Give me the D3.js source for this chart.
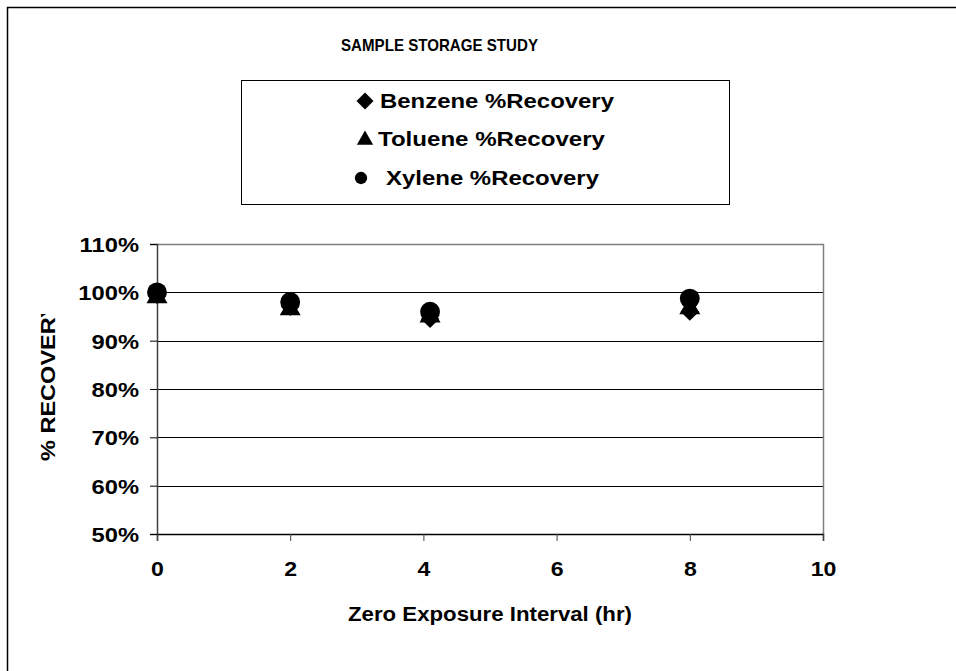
<!DOCTYPE html>
<html><head><meta charset="utf-8">
<script src="https://cdn.jsdelivr.net/npm/d3@7"></script>
<style>body{margin:0;background:#fff}svg{display:block}text{font-family:"Liberation Sans",Arial,sans-serif;font-weight:bold;fill:#000}</style>
</head><body>
<script>
const hours = [0, 2, 4.1, 8];
const benzene = [0.995, 0.97, 0.945, 0.96];
const toluene = [0.99, 0.965, 0.95, 0.967];
const xylene = [1.0, 0.98, 0.96, 0.987];
const yTicks = [0.5, 0.6, 0.7, 0.8, 0.9, 1.0, 1.1];
const xTicks = [0, 2, 4, 6, 8, 10];
const seriesNames = ["Benzene %Recovery", "Toluene %Recovery", "Xylene %Recovery"];

const W = 956, H = 671;
const svg = d3.select("body").append("svg").attr("width", W).attr("height", H);
svg.append("rect").attr("x", 7.5).attr("y", 7.5).attr("width", 1200).attr("height", 1200)
  .attr("fill", "none").attr("stroke", "#000").attr("stroke-width", 1.5);

function widen(sel, k) {
  sel.each(function () {
    const w = this.getComputedTextLength();
    d3.select(this).attr("textLength", w * k).attr("lengthAdjust", "spacingAndGlyphs");
  });
}

const L = 157, R = 823, T = 244, B = 534;
const x = d3.scaleLinear().domain([0, 10]).range([L, R]);
const y = d3.scaleLinear().domain([0.5, 1.1]).range([B, T]);

// gridlines
svg.append("g").selectAll("line").data(yTicks.filter(v => v > 0.5 && v < 1.1)).join("line")
  .attr("x1", L).attr("x2", R).attr("y1", d => Math.round(y(d)) + 0.5).attr("y2", d => Math.round(y(d)) + 0.5)
  .attr("stroke", "#000").attr("stroke-width", 1);
svg.append("path").attr("d", `M${L},${T + 0.5}H${R + 0.5}V${B}`).attr("fill", "none").attr("stroke", "#808080").attr("stroke-width", 1.5);

// y axis
const yAxis = d3.axisLeft(y).tickValues(yTicks).tickFormat(d3.format(".0%")).tickSize(7).tickPadding(12);
const gy = svg.append("g").attr("transform", `translate(${L},0)`).call(yAxis);
gy.attr("font-size", 21).attr("font-family", null);
gy.select(".domain").attr("stroke", "#404040").attr("stroke-width", 1.5);
gy.selectAll(".tick line").attr("stroke", "#000");
gy.selectAll("text").attr("font-size", 21).attr("dy", "0.36em").attr("x", -18);
widen(gy.selectAll("text"), 1.13);

// x axis
const xAxis = d3.axisBottom(x).tickValues(xTicks).tickSize(7).tickPadding(20);
const gx = svg.append("g").attr("transform", `translate(0,${B})`).call(xAxis);
gx.attr("font-size", 21).attr("font-family", null);
gx.select(".domain").attr("stroke", "#000").attr("stroke-width", 1.5);
gx.selectAll(".tick line").attr("stroke", "#404040");
gx.selectAll("text").attr("font-size", 21);
widen(gx.selectAll("text"), 1.1);

// markers
function diamond(side) { const h = side / Math.SQRT2; return `M0,${-h}L${h},0L0,${h}L${-h},0Z`; }
const symTri = d3.symbol().type(d3.symbolTriangle).size(190);
const symCircle = d3.symbol().type(d3.symbolCircle).size(310);
const series = [
  {vals: benzene, path: diamond(13)},
  {vals: toluene, path: symTri()},
  {vals: xylene, path: symCircle()}
];
series.forEach(s => {
  svg.append("g").selectAll("path").data(hours.map((h, i) => [h, s.vals[i]])).join("path")
    .attr("d", s.path).attr("transform", d => `translate(${x(d[0])},${y(d[1])})`).attr("fill", "#000");
});

// title
svg.append("text").attr("x", 341).attr("y", 51).attr("font-size", 17)
  .attr("textLength", 197).attr("lengthAdjust", "spacingAndGlyphs").text("SAMPLE STORAGE STUDY");

// legend
svg.append("rect").attr("x", 241.5).attr("y", 80.5).attr("width", 488).attr("height", 124)
  .attr("fill", "#fff").attr("stroke", "#000").attr("stroke-width", 1);
const legPaths = [diamond(12), d3.symbol().type(d3.symbolTriangle).size(115)(), d3.symbol().type(d3.symbolCircle).size(120)()];
const legY = [101, 139, 178];
const legSymX = [365, 365, 361];
const legTextX = [380, 378, 386];
const legTextW = [234, 227, 213];
seriesNames.forEach((n, i) => {
  svg.append("path").attr("d", legPaths[i]).attr("transform", `translate(${legSymX[i]},${legY[i] + (i === 1 ? 1 : 0)})`).attr("fill", "#000");
  svg.append("text").attr("x", legTextX[i]).attr("y", legY[i]).attr("dy", "0.36em").attr("font-size", 20)
    .attr("textLength", legTextW[i]).attr("lengthAdjust", "spacingAndGlyphs").text(n);
});

// axis titles
svg.append("text").attr("x", 348).attr("y", 621).attr("font-size", 21)
  .attr("textLength", 284).attr("lengthAdjust", "spacingAndGlyphs").text("Zero Exposure Interval (hr)");
svg.append("clipPath").attr("id", "yc").append("rect").attr("x", 0).attr("y", 314).attr("width", 120).attr("height", 200);
const yt = svg.append("g").attr("clip-path", "url(#yc)").append("text")
  .attr("transform", "translate(55,461) rotate(-90)").attr("font-size", 21).text("% RECOVERY");
widen(yt, 1.12);
</script>
</body></html>
